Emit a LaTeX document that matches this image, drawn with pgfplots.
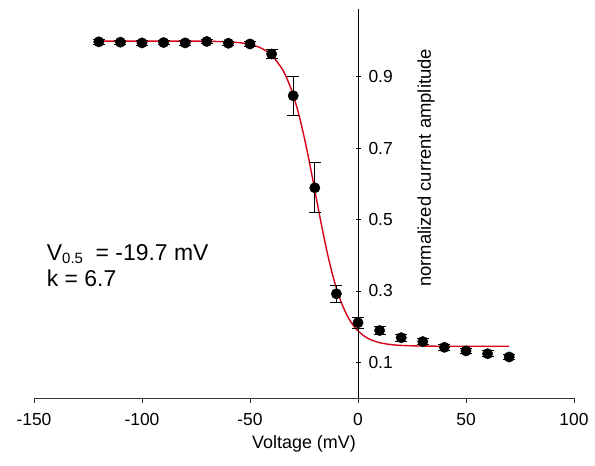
\documentclass[border=0pt]{standalone}
\usepackage{fontspec}
\setmainfont{Liberation Sans}
\usepackage{pgfplots}
\pgfplotsset{compat=1.18}
\definecolor{fitred}{RGB}{215,0,25}
\pgfplotsset{common/.style={
  scale only axis, width=540bp, height=389bp,
  xmin=-150, xmax=100, ymin=0, ymax=1.09,
  major tick length=5bp,
  /pgf/number format/assume math mode=true,
  ticklabel style={font=\fontsize{17.5}{20}\selectfont},
  clip=false,
}}
\begin{document}
\begin{tikzpicture}
\path[use as bounding box] (-34bp,-68bp) rectangle (561bp,398bp);
\begin{axis}[common,
  hide y axis,
  axis x line*=bottom,
  x axis line style={-, line width=0.7pt, black!80},
  xtick pos=bottom,
  tick align=outside,
  xtick={-150,-100,-50,0,50,100},
  x tick style={black!80, line width=0.7pt},
  xticklabel style={yshift=-7bp},
  xlabel={Voltage (mV)},
  xlabel style={at={(axis description cs:0.5,0)}, anchor=base, yshift=-50bp, font=\fontsize{18}{20}\selectfont},
]
\addplot[fitred, line width=1.4pt, smooth, no marks] coordinates {
(-120,1.0) (-100,1.0) (-80,1.0) (-70,0.9997) (-60,0.9979) (-55,0.9956) (-50,0.9908)
(-45,0.9809) (-40,0.9606) (-35,0.9209) (-32,0.8824) (-30,0.8487) (-28,0.8080)
(-26,0.7598) (-24,0.7052) (-22,0.6452) (-20,0.5821) (-18,0.5185) (-16,0.4574)
(-14,0.4008) (-12,0.3507) (-10,0.3077) (-8,0.2720) (-6,0.2430) (-4,0.2199)
(-2,0.2019) (0,0.1879) (3,0.1730) (6,0.1630) (10,0.1550) (15,0.1498)
(20,0.1473) (30,0.1455) (40,0.1451) (70,0.1450)
};
\addplot[only marks, mark=*, mark size=5.2bp, black,
  error bars/.cd, y dir=both, y explicit,
  error bar style={black, line width=0.8pt},
  error mark options={black, mark size=6bp, line width=0.8pt, rotate=90}]
  coordinates {
(-120,0.998) +- (0,0.008)
(-110,0.997) +- (0,0.006)
(-100,0.995) +- (0,0.006)
(-90,0.996) +- (0,0.006)
(-80,0.995) +- (0,0.006)
(-70,0.999) +- (0,0.006)
(-60,0.994) +- (0,0.006)
(-50,0.992) +- (0,0.008)
(-40,0.964) +- (0,0.012)
(-30,0.847) +- (0,0.055)
(-20,0.589) +- (0,0.070)
(-10,0.292) +- (0,0.023)
(0,0.211) +- (0,0.016)
(10,0.189) +- (0,0.011)
(20,0.169) +- (0,0.010)
(30,0.158) +- (0,0.008)
(40,0.142) +- (0,0.008)
(50,0.132) +- (0,0.008)
(60,0.124) +- (0,0.008)
(70,0.115) +- (0,0.008)
};
\node[rotate=90, font=\fontsize{18.5}{20}\selectfont, inner sep=0pt] at (axis cs:31.5,0.645) {normalized current amplitude};
\node[anchor=base west, inner sep=0pt, font=\fontsize{23}{26}\selectfont] at (axis cs:-144.1,0.385) {V{\fontsize{15}{15}\selectfont\raisebox{-3bp}{0.5}}\ \ = -19.7 mV};
\node[anchor=base west, inner sep=0pt, font=\fontsize{23}{26}\selectfont] at (axis cs:-144.1,0.312) {k = 6.7};
\end{axis}
\begin{axis}[common,
  axis x line=none, axis y line=middle,
  axis line style={-, line width=0.7pt, black},
  tick style={black, line width=0.7pt},
  tick align=outside,
  ytick={0.1,0.3,0.5,0.7,0.9},
  y tick style={xshift=2.5bp},
  yticklabel style={anchor=west, xshift=12bp, /pgf/number format/fixed, /pgf/number format/precision=1, /pgf/number format/fixed zerofill},
]
\end{axis}
\end{tikzpicture}
\end{document}
